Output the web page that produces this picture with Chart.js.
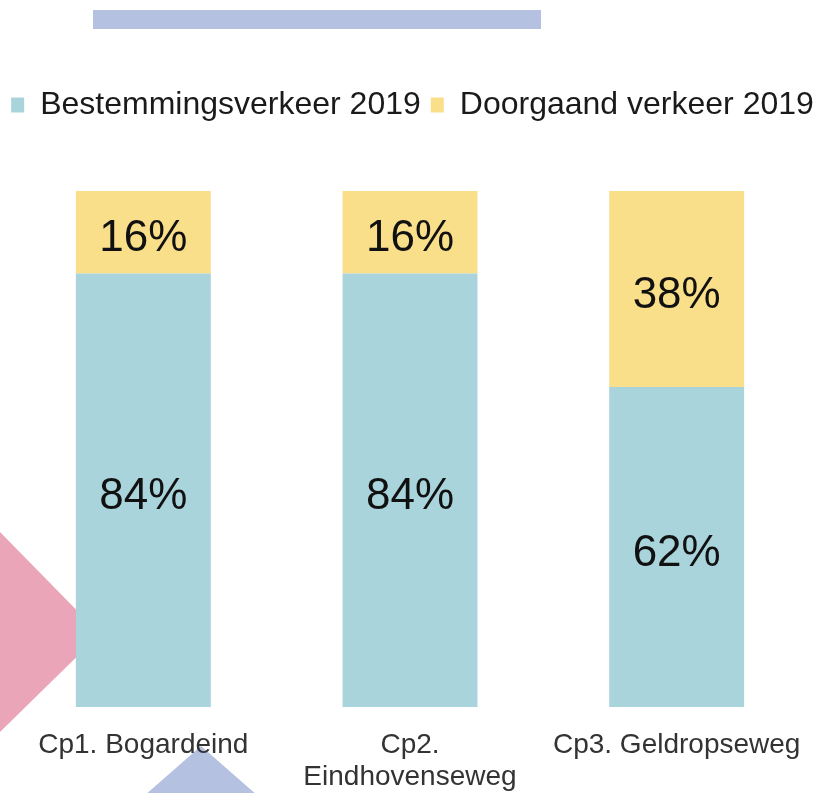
<!DOCTYPE html>
<html>
<head>
<meta charset="utf-8">
<script src="https://cdn.jsdelivr.net/npm/chart.js@4"></script>
<style>
  body { margin: 0; background: #fff; }
</style>
</head>
<body>
<canvas id="verkeer" width="825" height="793"></canvas>
<script>
const labels = ['Cp1. Bogardeind', ['Cp2.', 'Eindhovenseweg'], 'Cp3. Geldropseweg']
const bestemming = [84, 84, 62]
const doorgaand = [16, 16, 38]
const seriesNames = ['Bestemmingsverkeer 2019', 'Doorgaand verkeer 2019']

const BLUE = '#a9d4dc'
const YELLOW = '#fadf8a'

// background shapes from the slide
const shapes = {
  id: 'shapes',
  beforeDraw(chart) {
    const c = chart.ctx
    c.save()
    c.fillStyle = '#b4c1e1'
    c.fillRect(93, 10, 448, 19)
    c.fillStyle = '#eaa5b8'
    c.beginPath()
    c.moveTo(0, 532)
    c.lineTo(100, 634)
    c.lineTo(0, 732)
    c.closePath()
    c.fill()
    c.fillStyle = '#b4c1e1'
    c.beginPath()
    c.moveTo(144, 796)
    c.lineTo(201, 746)
    c.lineTo(258, 796)
    c.closePath()
    c.fill()
    c.restore()
  },
}

// percentages in the middle of each block
const valueLabels = {
  id: 'valueLabels',
  afterDatasetsDraw(chart) {
    const c = chart.ctx
    c.save()
    c.font = '44px "Liberation Sans", Arial, sans-serif'
    c.fillStyle = '#111'
    c.textAlign = 'center'
    c.textBaseline = 'middle'
    chart.data.datasets.forEach((ds, i) => {
      chart.getDatasetMeta(i).data.forEach((bar, j) => {
        const { x, y, base } = bar.getProps(['x', 'y', 'base'], true)
        c.fillText(ds.data[j] + '%', x, (y + base) / 2 + 7)
      })
    })
    c.restore()
  },
}

// stretch the legend box down to the top of the bars
const legendSpace = {
  id: 'legendSpace',
  beforeInit(chart) {
    const fit = chart.legend.fit
    chart.legend.fit = function () {
      fit.call(this)
      this.height = 112
    }
  },
}

const ctx = document.getElementById('verkeer').getContext('2d')
new Chart(ctx, {
  type: 'bar',
  data: {
    labels: labels,
    datasets: [
      { label: seriesNames[0], data: bestemming, backgroundColor: BLUE },
      { label: seriesNames[1], data: doorgaand, backgroundColor: YELLOW },
    ],
  },
  options: {
    responsive: false,
    animation: false,
    barPercentage: 0.506,
    categoryPercentage: 1,
    layout: { padding: { top: 79, left: 0, right: 0, bottom: 0 } },
    plugins: {
      tooltip: { enabled: false },
      legend: {
        labels: {
          boxWidth: 13,
          boxHeight: 15,
          padding: 10,
          color: '#1a1a1a',
          font: { family: '"Liberation Sans", Arial, sans-serif', size: 32 },
        },
      },
    },
    scales: {
      x: {
        stacked: true,
        grid: { display: false, drawTicks: false },
        border: { display: false },
        ticks: {
          padding: 22,
          color: '#333',
          font: { family: '"Liberation Sans", Arial, sans-serif', size: 28, lineHeight: 1.15 },
        },
        afterFit: s => { s.height = 86 },
      },
      y: {
        stacked: true,
        min: 0,
        max: 100,
        ticks: { display: false },
        grid: { display: false, drawTicks: false },
        border: { display: false },
        afterFit: s => { s.width = 10 },
      },
      yRight: {
        position: 'right',
        min: 0,
        max: 100,
        ticks: { display: false },
        grid: { display: false, drawTicks: false },
        border: { display: false },
        afterFit: s => { s.width = 15 },
      },
    },
  },
  plugins: [shapes, valueLabels, legendSpace],
})
</script>
</body>
</html>
